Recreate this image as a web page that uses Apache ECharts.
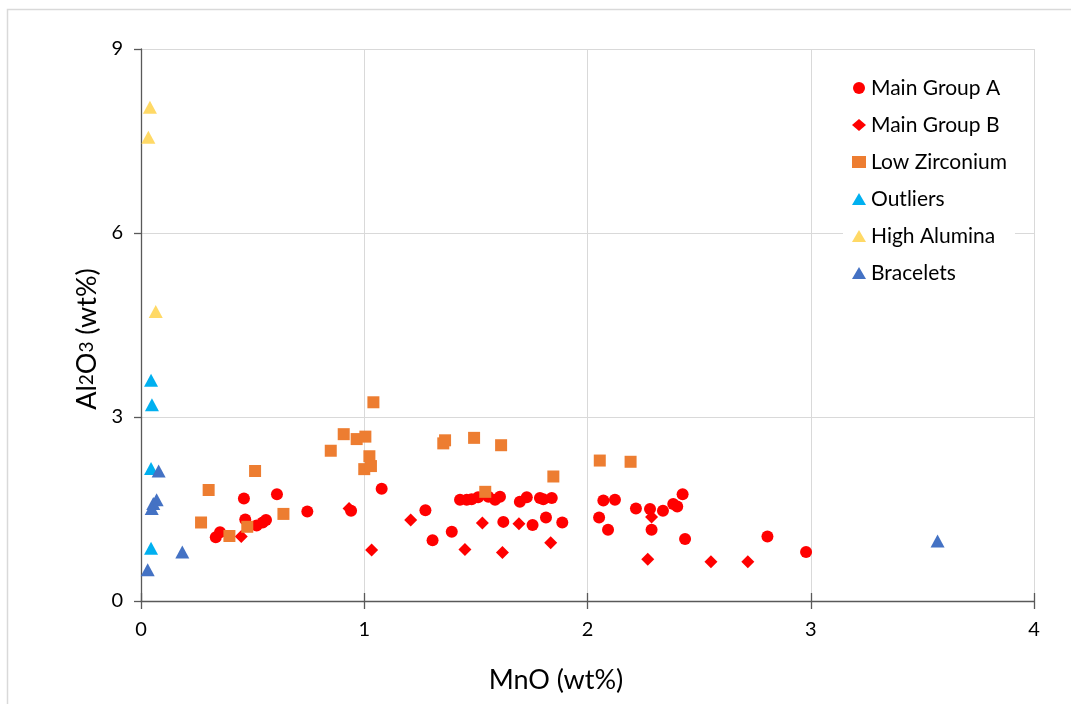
<!DOCTYPE html>
<html>
<head>
<meta charset="utf-8">
<title>MnO vs Al2O3</title>
<script src="https://cdn.jsdelivr.net/npm/echarts@6/dist/echarts.min.js"></script>
<style>
  html, body { margin: 0; padding: 0; background: #ffffff; }
  #chart { width: 1071px; height: 704px; }
</style>
</head>
<body>
<div id="chart"></div>
<script>
// Composition data: [MnO wt%, Al2O3 wt%]
var mainGroupA = [
  [0.335, 1.04], [0.354, 1.12], [0.461, 1.67], [0.467, 1.33], [0.518, 1.23],
  [0.545, 1.28], [0.560, 1.32], [0.609, 1.74], [0.745, 1.46], [0.941, 1.47],
  [1.078, 1.83], [1.274, 1.48], [1.306, 0.99], [1.392, 1.13],
  [1.429, 1.65], [1.459, 1.65], [1.481, 1.66], [1.510, 1.69], [1.556, 1.70],
  [1.586, 1.65], [1.608, 1.70], [1.697, 1.62], [1.728, 1.69], [1.787, 1.68],
  [1.802, 1.66], [1.840, 1.68], [1.623, 1.29], [1.754, 1.24], [1.814, 1.36],
  [1.887, 1.28], [2.052, 1.36], [2.071, 1.64], [2.123, 1.65], [2.092, 1.16],
  [2.217, 1.51], [2.280, 1.50], [2.338, 1.47], [2.384, 1.58], [2.402, 1.54],
  [2.426, 1.74], [2.287, 1.16], [2.437, 1.01], [2.806, 1.05], [2.979, 0.80]
];
var mainGroupB = [
  [0.449, 1.05], [0.932, 1.51], [1.033, 0.83], [1.208, 1.32], [1.451, 0.84],
  [1.529, 1.27], [1.619, 0.79], [1.693, 1.26], [1.835, 0.95], [2.287, 1.37],
  [2.270, 0.68], [2.553, 0.64], [2.718, 0.64]
];
var lowZirconium = [
  [0.269, 1.28], [0.303, 1.81], [0.396, 1.06], [0.476, 1.21], [0.511, 2.12],
  [0.638, 1.42], [0.850, 2.45], [0.908, 2.72], [0.966, 2.64], [1.005, 2.68],
  [1.000, 2.15], [1.023, 2.36], [1.030, 2.20], [1.041, 3.24], [1.354, 2.57],
  [1.362, 2.62], [1.492, 2.66], [1.542, 1.78], [1.613, 2.54], [1.847, 2.03],
  [2.055, 2.29], [2.193, 2.27]
];
var outliers = [
  [0.045, 3.60], [0.049, 3.20], [0.045, 2.16], [0.045, 0.86]
];
var highAlumina = [
  [0.040, 8.05], [0.033, 7.56], [0.066, 4.72]
];
var bracelets = [
  [0.079, 2.12], [0.070, 1.65], [0.055, 1.59], [0.048, 1.51],
  [0.185, 0.80], [0.030, 0.51], [3.568, 0.98]
];

var xTicks = { min: 0, max: 4, interval: 1 };
var yTicks = { min: 0, max: 9, interval: 3 };

var FONT = 'Lato, "Open Sans", sans-serif';
var AXIS_COLOR = '#595959';
var GRID_COLOR = '#d9d9d9';

var chart = echarts.init(document.getElementById('chart'), null, { renderer: 'canvas' });

function scatter(name, data, symbol, size, color) {
  return {
    name: name,
    type: 'scatter',
    data: data,
    symbol: symbol,
    symbolSize: size,
    itemStyle: { color: color, opacity: 1 },
    emphasis: { disabled: true },
    xAxisIndex: 0,
    yAxisIndex: 0
  };
}

chart.setOption({
  backgroundColor: '#ffffff',
  animation: false,
  textStyle: { fontFamily: FONT },
  grid: { left: 141, right: 37, top: 49, bottom: 103, containLabel: false },
  graphic: [{
    type: 'polyline',
    silent: true,
    shape: { points: [[7.5, 704], [7.5, 9.5], [1071, 9.5]] },
    style: { stroke: GRID_COLOR, lineWidth: 1.5, fill: null }
  }],
  legend: {
    orient: 'vertical',
    left: 843,
    top: 73,
    padding: [4, 8, 4, 9],
    backgroundColor: '#ffffff',
    itemWidth: 14,
    itemHeight: 12,
    itemGap: 15,
    selectedMode: false,
    textStyle: { fontSize: 21, color: '#000000', fontFamily: FONT, lineHeight: 22 },
    data: [
      { name: 'Main Group A', icon: 'circle' },
      { name: 'Main Group B', icon: 'diamond' },
      { name: 'Low Zirconium', icon: 'rect' },
      { name: 'Outliers', icon: 'triangle' },
      { name: 'High Alumina', icon: 'triangle' },
      { name: 'Bracelets', icon: 'triangle' }
    ]
  },
  xAxis: [{
    type: 'value',
    min: xTicks.min, max: xTicks.max, interval: xTicks.interval,
    name: 'MnO (wt%)',
    nameLocation: 'middle',
    nameGap: 66,
    nameTextStyle: { fontSize: 27, color: '#000000', fontFamily: FONT, padding: [0, 63, 0, 0] },
    axisLine: { show: true, onZero: false, lineStyle: { color: AXIS_COLOR, width: 1.3 } },
    axisTick: { show: true, length: 8, lineStyle: { color: AXIS_COLOR, width: 1.3 } },
    axisLabel: { margin: 19, fontSize: 20, color: '#000000', fontFamily: FONT },
    splitLine: { show: true, lineStyle: { color: GRID_COLOR, width: 1 } }
  }, {
    // inward half of the crossing x ticks
    type: 'value',
    position: 'bottom',
    min: xTicks.min, max: xTicks.max, interval: xTicks.interval,
    axisLine: { show: false },
    axisTick: { show: true, inside: true, length: 8, lineStyle: { color: AXIS_COLOR, width: 1.3 } },
    axisLabel: { show: false },
    splitLine: { show: false }
  }],
  yAxis: {
    type: 'value',
    min: yTicks.min, max: yTicks.max, interval: yTicks.interval,
    name: 'Al{s|2}O{s|3} (wt%)',
    nameLocation: 'middle',
    nameRotate: 90,
    nameGap: 28,
    nameTextStyle: {
      fontSize: 27, color: '#000000', fontFamily: FONT, padding: [0, 28, 0, 0],
      rich: { s: { fontSize: 19, color: '#000000', fontFamily: FONT } }
    },
    axisLine: { show: true, onZero: false, lineStyle: { color: AXIS_COLOR, width: 1.3 } },
    axisTick: { show: true, length: 7, lineStyle: { color: AXIS_COLOR, width: 1.3 } },
    axisLabel: { margin: 18, fontSize: 20, color: '#000000', fontFamily: FONT },
    splitLine: { show: true, lineStyle: { color: GRID_COLOR, width: 1 } }
  },
  series: [
    scatter('Main Group A', mainGroupA, 'circle', 12, '#ff0000'),
    scatter('Main Group B', mainGroupB, 'diamond', 13, '#ff0000'),
    scatter('Low Zirconium', lowZirconium, 'rect', 12, '#ed7d31'),
    scatter('Outliers', outliers, 'triangle', [14, 13], '#00b0f0'),
    scatter('High Alumina', highAlumina, 'triangle', [14, 13], '#ffd966'),
    scatter('Bracelets', bracelets, 'triangle', [14, 13], '#4472c4')
  ]
});
</script>
</body>
</html>
